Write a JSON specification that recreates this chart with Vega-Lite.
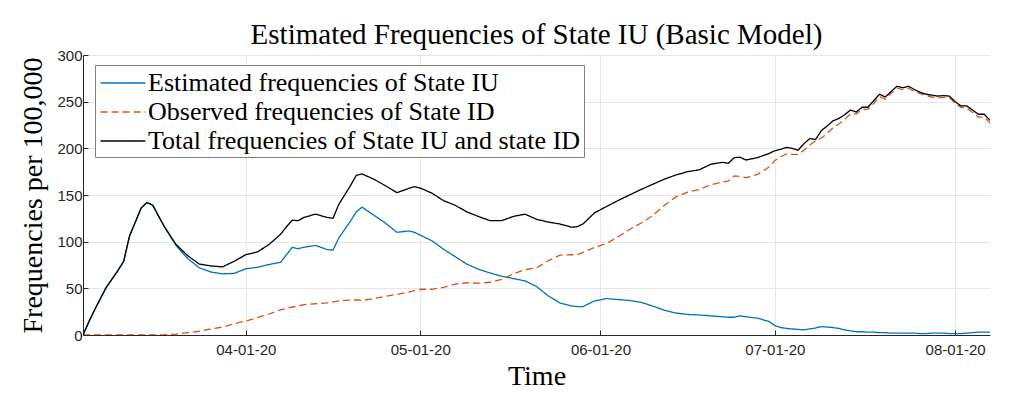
{
  "$schema": "https://vega.github.io/schema/vega-lite/v6.json",
  "width": 907,
  "height": 280,
  "autosize": {"type": "none"},
  "padding": {"left": 83, "top": 55, "right": 34, "bottom": 59},
  "background": "white",
  "title": {
    "text": "Estimated Frequencies of State IU (Basic Model)",
    "font": "Liberation Serif",
    "fontSize": 29,
    "fontWeight": "normal",
    "color": "#000000",
    "anchor": "middle",
    "offset": -2
  },
  "data": {
    "values": [
      {"date": "2020-03-04", "iu": 0, "id": 0, "tot": 0},
      {"date": "2020-03-05", "iu": 14, "id": 0, "tot": 14},
      {"date": "2020-03-06", "iu": 27, "id": 0, "tot": 27},
      {"date": "2020-03-08", "iu": 51, "id": 0, "tot": 51},
      {"date": "2020-03-10", "iu": 69, "id": 0, "tot": 69},
      {"date": "2020-03-11", "iu": 79, "id": 0, "tot": 79},
      {"date": "2020-03-12", "iu": 106, "id": 0, "tot": 106},
      {"date": "2020-03-14", "iu": 136, "id": 0, "tot": 136},
      {"date": "2020-03-15", "iu": 142, "id": 0, "tot": 142},
      {"date": "2020-03-16", "iu": 139, "id": 0, "tot": 139},
      {"date": "2020-03-18", "iu": 116, "id": 0.3, "tot": 116},
      {"date": "2020-03-20", "iu": 96, "id": 1, "tot": 97},
      {"date": "2020-03-22", "iu": 82, "id": 2.5, "tot": 85},
      {"date": "2020-03-24", "iu": 72, "id": 4, "tot": 76},
      {"date": "2020-03-26", "iu": 67.5, "id": 6.5, "tot": 74},
      {"date": "2020-03-28", "iu": 65.5, "id": 8.5, "tot": 73},
      {"date": "2020-03-30", "iu": 66, "id": 12, "tot": 79},
      {"date": "2020-04-01", "iu": 71, "id": 15, "tot": 86},
      {"date": "2020-04-03", "iu": 72.5, "id": 18.5, "tot": 89},
      {"date": "2020-04-05", "iu": 75.5, "id": 22.5, "tot": 97},
      {"date": "2020-04-07", "iu": 78, "id": 27, "tot": 108},
      {"date": "2020-04-08", "iu": 86, "id": 28.5, "tot": 116},
      {"date": "2020-04-09", "iu": 94, "id": 30, "tot": 123},
      {"date": "2020-04-10", "iu": 92.5, "id": 31, "tot": 122.5},
      {"date": "2020-04-11", "iu": 94, "id": 32.5, "tot": 126},
      {"date": "2020-04-13", "iu": 96, "id": 33.5, "tot": 129.5},
      {"date": "2020-04-15", "iu": 91.5, "id": 34.5, "tot": 126},
      {"date": "2020-04-16", "iu": 91, "id": 35.5, "tot": 125},
      {"date": "2020-04-17", "iu": 104, "id": 36.5, "tot": 140},
      {"date": "2020-04-18", "iu": 113, "id": 37, "tot": 150},
      {"date": "2020-04-19", "iu": 122, "id": 37.5, "tot": 160},
      {"date": "2020-04-20", "iu": 132, "id": 37.5, "tot": 171},
      {"date": "2020-04-21", "iu": 137, "id": 37, "tot": 172.5},
      {"date": "2020-04-23", "iu": 128.5, "id": 39, "tot": 167},
      {"date": "2020-04-25", "iu": 120, "id": 41.5, "tot": 160},
      {"date": "2020-04-27", "iu": 110, "id": 43.5, "tot": 152.5},
      {"date": "2020-04-29", "iu": 111.5, "id": 46, "tot": 157},
      {"date": "2020-04-30", "iu": 110, "id": 47.5, "tot": 159},
      {"date": "2020-05-01", "iu": 107, "id": 49, "tot": 157.5},
      {"date": "2020-05-03", "iu": 101, "id": 49, "tot": 152},
      {"date": "2020-05-05", "iu": 92, "id": 51, "tot": 144},
      {"date": "2020-05-07", "iu": 84, "id": 54.5, "tot": 139},
      {"date": "2020-05-09", "iu": 76, "id": 56, "tot": 132},
      {"date": "2020-05-11", "iu": 70.5, "id": 55.5, "tot": 127},
      {"date": "2020-05-13", "iu": 66.5, "id": 56.5, "tot": 122.5},
      {"date": "2020-05-15", "iu": 63, "id": 59.5, "tot": 122.5},
      {"date": "2020-05-17", "iu": 60.5, "id": 65.5, "tot": 127},
      {"date": "2020-05-19", "iu": 58, "id": 70, "tot": 129.5},
      {"date": "2020-05-21", "iu": 52, "id": 72, "tot": 124},
      {"date": "2020-05-23", "iu": 42, "id": 79.5, "tot": 121},
      {"date": "2020-05-25", "iu": 34.5, "id": 85.5, "tot": 119},
      {"date": "2020-05-27", "iu": 31, "id": 86, "tot": 115.5},
      {"date": "2020-05-28", "iu": 30.5, "id": 86, "tot": 116},
      {"date": "2020-05-29", "iu": 30.5, "id": 88.5, "tot": 119},
      {"date": "2020-05-31", "iu": 36.5, "id": 94, "tot": 131},
      {"date": "2020-06-02", "iu": 39, "id": 98, "tot": 137.5},
      {"date": "2020-06-04", "iu": 38, "id": 105, "tot": 144},
      {"date": "2020-06-06", "iu": 37, "id": 113, "tot": 150},
      {"date": "2020-06-08", "iu": 35, "id": 120, "tot": 156},
      {"date": "2020-06-10", "iu": 31, "id": 128, "tot": 161.5},
      {"date": "2020-06-12", "iu": 26.5, "id": 139, "tot": 167},
      {"date": "2020-06-14", "iu": 23.5, "id": 148, "tot": 171.5},
      {"date": "2020-06-16", "iu": 22, "id": 153, "tot": 175},
      {"date": "2020-06-18", "iu": 21.5, "id": 156, "tot": 177},
      {"date": "2020-06-20", "iu": 20.5, "id": 161, "tot": 183},
      {"date": "2020-06-22", "iu": 19.5, "id": 164, "tot": 185},
      {"date": "2020-06-23", "iu": 19, "id": 165, "tot": 184},
      {"date": "2020-06-24", "iu": 19, "id": 170.5, "tot": 190},
      {"date": "2020-06-25", "iu": 20.5, "id": 170, "tot": 190.5},
      {"date": "2020-06-26", "iu": 19.5, "id": 168.5, "tot": 187.5},
      {"date": "2020-06-28", "iu": 18, "id": 172, "tot": 190},
      {"date": "2020-06-30", "iu": 14.5, "id": 180, "tot": 194.5},
      {"date": "2020-07-01", "iu": 10, "id": 187, "tot": 197.5},
      {"date": "2020-07-02", "iu": 8, "id": 191, "tot": 199},
      {"date": "2020-07-03", "iu": 7, "id": 194, "tot": 201},
      {"date": "2020-07-04", "iu": 6.5, "id": 193.5, "tot": 200},
      {"date": "2020-07-05", "iu": 6, "id": 193.5, "tot": 198},
      {"date": "2020-07-06", "iu": 5.5, "id": 198, "tot": 205},
      {"date": "2020-07-07", "iu": 6.5, "id": 203.5, "tot": 210.5},
      {"date": "2020-07-08", "iu": 7.5, "id": 208, "tot": 209.5},
      {"date": "2020-07-09", "iu": 9, "id": 211, "tot": 219},
      {"date": "2020-07-10", "iu": 8.5, "id": 216, "tot": 224},
      {"date": "2020-07-11", "iu": 8, "id": 222, "tot": 229.5},
      {"date": "2020-07-12", "iu": 7, "id": 226, "tot": 232},
      {"date": "2020-07-13", "iu": 5.5, "id": 231, "tot": 236},
      {"date": "2020-07-14", "iu": 4.5, "id": 237, "tot": 241},
      {"date": "2020-07-15", "iu": 3.5, "id": 237, "tot": 239},
      {"date": "2020-07-16", "iu": 3.5, "id": 241.5, "tot": 244},
      {"date": "2020-07-17", "iu": 3, "id": 242, "tot": 244},
      {"date": "2020-07-18", "iu": 3, "id": 248, "tot": 251},
      {"date": "2020-07-19", "iu": 2.5, "id": 255.5, "tot": 258},
      {"date": "2020-07-20", "iu": 2.5, "id": 252.5, "tot": 255},
      {"date": "2020-07-21", "iu": 2, "id": 259, "tot": 261},
      {"date": "2020-07-22", "iu": 2, "id": 264.5, "tot": 266.5},
      {"date": "2020-07-23", "iu": 2, "id": 263, "tot": 265},
      {"date": "2020-07-24", "iu": 2, "id": 264.5, "tot": 266.5},
      {"date": "2020-07-25", "iu": 2, "id": 261, "tot": 263},
      {"date": "2020-07-26", "iu": 1.5, "id": 258.5, "tot": 260},
      {"date": "2020-07-27", "iu": 1.5, "id": 256.5, "tot": 258},
      {"date": "2020-07-28", "iu": 2, "id": 255, "tot": 257},
      {"date": "2020-07-29", "iu": 2, "id": 254, "tot": 256},
      {"date": "2020-07-30", "iu": 2, "id": 254.5, "tot": 256.5},
      {"date": "2020-07-31", "iu": 1.5, "id": 254.5, "tot": 256},
      {"date": "2020-08-01", "iu": 1.5, "id": 248.5, "tot": 250},
      {"date": "2020-08-02", "iu": 1.5, "id": 244, "tot": 245.5},
      {"date": "2020-08-03", "iu": 2, "id": 243.5, "tot": 245.5},
      {"date": "2020-08-04", "iu": 2.5, "id": 238.5, "tot": 241},
      {"date": "2020-08-05", "iu": 3, "id": 233.5, "tot": 236.5},
      {"date": "2020-08-06", "iu": 3, "id": 233.5, "tot": 236.5},
      {"date": "2020-08-07", "iu": 3, "id": 227, "tot": 230}
    ]
  },
  "transform": [
    {"fold": ["iu", "id", "tot"], "as": ["series", "value"]}
  ],
  "mark": {"type": "line", "strokeWidth": 1.3, "clip": true},
  "encoding": {
    "x": {
      "field": "date",
      "type": "temporal",
      "scale": {"domain": [{"year": 2020, "month": 3, "date": 4}, {"year": 2020, "month": 8, "date": 7}]},
      "axis": {
        "title": "Time",
        "values": [
          {"year": 2020, "month": 4, "date": 1},
          {"year": 2020, "month": 5, "date": 1},
          {"year": 2020, "month": 6, "date": 1},
          {"year": 2020, "month": 7, "date": 1},
          {"year": 2020, "month": 8, "date": 1}
        ],
        "format": "%m-%d-%y",
        "titlePadding": 5
      }
    },
    "y": {
      "field": "value",
      "type": "quantitative",
      "scale": {"domain": [0, 300], "nice": false},
      "axis": {
        "title": "Frequencies per 100,000",
        "values": [0, 50, 100, 150, 200, 250, 300],
        "titlePadding": 9
      }
    },
    "color": {
      "field": "series",
      "type": "nominal",
      "scale": {"domain": ["iu", "id", "tot"], "range": ["#0072BD", "#D95319", "#000000"]},
      "legend": {
        "title": null,
        "labelExpr": "datum.value == 'iu' ? 'Estimated frequencies of State IU' : datum.value == 'id' ? 'Observed frequencies of State ID' : 'Total frequencies of State IU and state ID'"
      }
    },
    "strokeDash": {
      "field": "series",
      "type": "nominal",
      "scale": {"domain": ["iu", "id", "tot"], "range": [[1, 0], [7, 4], [1, 0]]},
      "legend": {
        "title": null,
        "labelExpr": "datum.value == 'iu' ? 'Estimated frequencies of State IU' : datum.value == 'id' ? 'Observed frequencies of State ID' : 'Total frequencies of State IU and state ID'"
      }
    }
  },
  "config": {
    "view": {"stroke": null},
    "axis": {
      "labelFont": "Liberation Sans",
      "labelFontSize": 15,
      "labelColor": "#262626",
      "titleFont": "Liberation Serif",
      "titleFontSize": 28,
      "titleFontWeight": "normal",
      "titleColor": "#000000",
      "domainColor": "#262626",
      "domainWidth": 1,
      "tickColor": "#262626",
      "tickSize": -5,
      "gridColor": "#e6e6e6",
      "gridWidth": 1,
      "grid": true
    },
    "axisX": {"labelPadding": 12},
    "axisY": {"labelPadding": 6},
    "legend": {
      "orient": "none",
      "legendX": 12,
      "legendY": 10,
      "fillColor": "white",
      "strokeColor": "#808080",
      "padding": 3,
      "symbolType": "M-1.6,0H1.6",
      "symbolSize": 784,
      "symbolOffset": 10,
      "symbolStrokeWidth": 1.3,
      "labelOffset": 10,
      "labelFont": "Liberation Serif",
      "labelFontSize": 26,
      "labelColor": "#000000",
      "labelLimit": 600,
      "rowPadding": 1
    }
  }
}
